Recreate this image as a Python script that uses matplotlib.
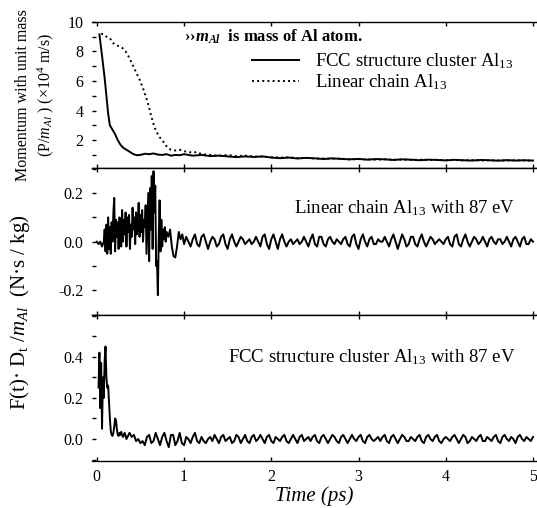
import numpy as np
import matplotlib
matplotlib.use("Agg")
import matplotlib.pyplot as plt
from matplotlib.lines import Line2D
from matplotlib.ticker import MultipleLocator

################################################################################

# top panel: momentum per unit mass (x 10^4 m/s)
FCC_MOM_T = [0.03, 0.05, 0.07, 0.09, 0.11, 0.13, 0.15, 0.18, 0.21, 0.24, 0.27,
             0.30, 0.34, 0.38, 0.42, 0.46, 0.50, 0.55, 0.60, 0.65, 0.70, 0.75,
             0.80, 0.85, 0.90, 0.95, 1.0, 1.1, 1.2, 1.3, 1.4, 1.5, 1.6, 1.7,
             1.8, 1.9, 2.0, 2.1, 2.2, 2.3, 2.4, 2.5, 2.6, 2.7, 2.8, 2.9, 3.0,
             3.1, 3.2, 3.3, 3.4, 3.5, 3.6, 3.7, 3.8, 3.9, 4.0, 4.1, 4.2, 4.3,
             4.4, 4.5, 4.6, 4.7, 4.8, 4.9, 5.0]
FCC_MOM_V = [9.15, 8.2, 7.2, 6.2, 5.0, 3.8, 3.0, 2.7, 2.4, 2.0, 1.7,
             1.5, 1.35, 1.2, 1.05, 0.98, 1.0, 1.08, 1.05, 1.1, 1.02, 1.0,
             1.05, 0.95, 1.0, 0.98, 1.05, 0.95, 1.0, 0.92, 0.95, 0.9, 0.85, 0.9,
             0.86, 0.9, 0.82, 0.78, 0.82, 0.76, 0.8, 0.77, 0.72, 0.77, 0.73, 0.7,
             0.73, 0.68, 0.72, 0.7, 0.66, 0.7, 0.68, 0.64, 0.68, 0.66, 0.63,
             0.67, 0.64, 0.62, 0.66, 0.64, 0.61, 0.65, 0.62, 0.64, 0.62]

LIN_MOM_T = [0.05, 0.08, 0.11, 0.15, 0.18, 0.21, 0.25, 0.29, 0.33, 0.37, 0.41,
             0.45, 0.49, 0.53, 0.57, 0.60, 0.62, 0.64, 0.66, 0.68, 0.70, 0.72,
             0.75, 0.78, 0.81, 0.85, 0.90, 0.95, 1.0, 1.05, 1.1, 1.15, 1.2,
             1.3, 1.4, 1.5, 1.6, 1.7, 1.8, 1.9, 2.0, 2.1, 2.2, 2.3, 2.4, 2.5,
             2.6, 2.7, 2.8, 2.9, 3.0, 3.1, 3.2, 3.3, 3.4, 3.5, 3.6, 3.7, 3.8,
             3.9, 4.0, 4.1, 4.2, 4.3, 4.4, 4.5, 4.6, 4.7, 4.8, 4.9, 5.0]
LIN_MOM_V = [9.2, 9.15, 9.0, 8.9, 8.6, 8.45, 8.35, 8.25, 8.0, 7.6, 7.1,
             6.6, 6.1, 5.5, 4.8, 4.2, 3.7, 3.3, 2.9, 2.6, 2.4, 2.2,
             2.0, 1.75, 1.5, 1.35, 1.3, 1.35, 1.25, 1.2, 1.15, 1.2, 1.05,
             1.0, 0.95, 1.0, 0.92, 0.95, 0.9, 0.88, 0.85, 0.82, 0.84, 0.78,
             0.8, 0.75, 0.76, 0.74, 0.75, 0.7, 0.72, 0.7, 0.68, 0.71, 0.67,
             0.69, 0.66, 0.68, 0.65, 0.67, 0.64, 0.66, 0.63, 0.65, 0.62, 0.64,
             0.63, 0.61, 0.64, 0.62, 0.61]

# middle panel: linear chain force (N.s/kg), early burst
LIN_F_T0 = [0.00, 0.02, 0.04, 0.06, 0.08, 0.09, 0.10, 0.11, 0.12, 0.13, 0.14,
            0.15, 0.16, 0.17, 0.18, 0.19, 0.20, 0.21, 0.22, 0.23, 0.24, 0.25,
            0.26, 0.27, 0.28, 0.29, 0.30, 0.31, 0.32, 0.33, 0.34, 0.35, 0.36,
            0.37, 0.38, 0.39, 0.40, 0.41, 0.42, 0.43, 0.44, 0.45, 0.46, 0.47,
            0.48, 0.49, 0.50, 0.51, 0.52, 0.53, 0.54, 0.55, 0.56, 0.57, 0.58,
            0.59, 0.60, 0.61, 0.62, 0.63, 0.64, 0.65, 0.66, 0.67, 0.68, 0.69,
            0.70, 0.71, 0.72, 0.73, 0.74, 0.75, 0.76, 0.77, 0.78, 0.79, 0.80,
            0.82, 0.84, 0.86, 0.88, 0.90, 0.92, 0.94, 0.96, 0.98, 1.00]
LIN_F_V0 = [0.0, -0.01, 0.0, -0.02, 0.0, 0.05, -0.04, 0.07, -0.05, 0.10, -0.03,
            0.06, -0.05, 0.08, 0.0, 0.12, 0.18, -0.04, 0.09, 0.02, 0.08, -0.03,
            0.10, 0.05, -0.02, 0.13, 0.0, 0.09, 0.03, 0.12, -0.02, 0.10, 0.04,
            0.11, -0.03, 0.07, 0.02, 0.14, 0.05, 0.10, -0.01, 0.12, 0.03, 0.08,
            0.16, 0.02, 0.11, 0.04, 0.13, 0.0, 0.09, 0.06, 0.15, -0.05, 0.08,
            0.20, -0.08, 0.22, 0.05, 0.27, -0.03, 0.29, 0.12, 0.23, -0.10, -0.08,
            -0.22, 0.02, 0.17, -0.04, 0.09, -0.02, 0.05, 0.01, 0.06, 0.0, 0.04,
            0.02, 0.05, -0.02, -0.06, -0.065, -0.02, 0.04, 0.01, 0.03, -0.01]
# middle panel: later oscillation, 1.025 .. 5.0 ps
LIN_F_V1 = [0.02, 0.00, -0.02, 0.01, 0.03, -0.01, -0.02, 0.02,
            0.03, 0.00, -0.03, 0.00, 0.02, 0.01, -0.02, -0.01,
            0.02, 0.03, -0.01, -0.03, 0.01, 0.03, 0.00, -0.02,
            0.00, 0.02, 0.01, -0.01, 0.00, 0.01, -0.01, 0.00,
            0.02, 0.00, -0.02, 0.02, 0.03, -0.01, -0.03, 0.01,
            0.03, 0.00, -0.03, 0.01, 0.03, 0.00, -0.02, 0.00,
            0.01, -0.01, 0.00, 0.01, -0.01, 0.00, 0.02, 0.00,
            -0.02, 0.01, 0.03, -0.01, -0.02, 0.02, 0.02, -0.01,
            -0.02, 0.01, 0.02, 0.00, -0.01, 0.01, 0.00, -0.01,
            0.01, 0.02, -0.01, -0.02, 0.02, 0.03, -0.01, -0.03,
            0.01, 0.03, 0.00, -0.02, 0.01, 0.02, -0.01, -0.01,
            0.01, 0.00, 0.00, 0.02, 0.00, -0.02, 0.01, 0.03,
            0.00, -0.03, 0.00, 0.03, 0.01, -0.02, -0.01, 0.02,
            0.02, -0.01, -0.02, 0.01, 0.03, 0.00, -0.02, 0.00,
            0.02, 0.01, -0.01, 0.00, 0.01, 0.00, -0.01, 0.01,
            0.02, -0.01, -0.02, 0.02, 0.03, -0.01, -0.02, 0.01,
            0.03, 0.00, -0.02, 0.00, 0.02, 0.01, -0.01, 0.00,
            0.02, 0.00, -0.02, 0.01, 0.02, 0.00, -0.01, 0.01,
            0.01, -0.01, 0.00, 0.02, 0.00, -0.02, 0.01, 0.02,
            0.00, -0.02, 0.01, 0.02, -0.01, -0.01, 0.01, 0.00]

# bottom panel: FCC cluster force, early burst
FCC_F_T0 = [0.02, 0.03, 0.04, 0.05, 0.06, 0.07, 0.08, 0.09, 0.10, 0.11, 0.12,
            0.13, 0.14, 0.15, 0.16, 0.17, 0.18, 0.19, 0.20, 0.21, 0.22, 0.23,
            0.24, 0.25, 0.26, 0.27, 0.28, 0.29, 0.30, 0.32, 0.34]
FCC_F_V0 = [0.25, 0.42, 0.15, 0.37, 0.05, 0.30, 0.20, 0.38, 0.45, 0.30, 0.25,
            0.26, 0.18, 0.10, 0.04, 0.02, 0.015, 0.03, 0.06, 0.10, 0.09, 0.05,
            0.02, 0.015, 0.03, 0.02, 0.035, 0.02, 0.01, 0.03, 0.0]
# bottom panel: later oscillation, 0.375 .. 5.0 ps
FCC_F_V1 = [0.03, 0.01, 0.02, -0.01, 0.00, -0.02, -0.01, -0.03, 0.01, 0.02,
            -0.02, -0.01, 0.03, 0.00, -0.03, 0.01, 0.03, -0.01, -0.04, 0.02,
            0.02, -0.03, -0.01, 0.03, -0.02, -0.03, 0.01, 0.00, -0.02, 0.01,
            0.03, -0.01, -0.02, 0.01, -0.01, -0.02, 0.00, 0.01, -0.01, 0.02,
            0.00, -0.02, 0.01, 0.02, -0.01, 0.00, 0.01, -0.02, -0.01, 0.02,
            0.01, -0.02, 0.00, 0.02, -0.01, -0.02, 0.01, 0.02, -0.01, 0.00,
            0.02, 0.00, -0.02, 0.01, 0.02, -0.01, -0.02, 0.01, 0.00, -0.01,
            0.01, 0.02, -0.01, -0.02, 0.00, 0.02, 0.00, -0.02, 0.01, 0.02,
            -0.01, 0.00, 0.01, -0.01, 0.01, 0.02, -0.01, -0.02, 0.01, 0.02,
            0.00, -0.02, 0.00, 0.02, 0.01, -0.01, -0.02, 0.01, 0.02, 0.00,
            -0.02, 0.00, 0.02, 0.00, -0.01, 0.01, 0.02, -0.01, -0.02, 0.01,
            0.02, 0.00, -0.01, 0.00, 0.01, -0.01, 0.01, 0.02, -0.01, -0.02,
            0.01, 0.02, 0.00, -0.02, 0.00, 0.02, 0.01, -0.01, -0.01, 0.01,
            0.00, -0.01, 0.01, 0.02, -0.01, -0.02, 0.01, 0.02, 0.00, -0.01,
            0.01, 0.02, -0.01, -0.02, 0.00, 0.01, 0.00, -0.01, 0.01, 0.02,
            0.00, -0.02, 0.00, 0.02, 0.01, -0.02, -0.01, 0.01, 0.00, -0.01,
            0.01, 0.02, -0.01, -0.01, 0.01, 0.00, -0.01, 0.01, 0.02, -0.01,
            -0.02, 0.01, 0.02, 0.00, -0.01, 0.01, 0.00, -0.02, 0.01, 0.02,
            0.00, -0.01, 0.01, 0.00, -0.01, 0.01]

X_TICKS = [0, 1, 2, 3, 4, 5]

################################################################################

plt.rcParams["font.family"] = ["Liberation Serif", "DejaVu Serif"]
plt.rcParams["mathtext.fontset"] = "custom"
plt.rcParams["mathtext.rm"] = "Liberation Serif"
plt.rcParams["mathtext.it"] = "Liberation Serif:italic"
plt.rcParams["mathtext.bf"] = "Liberation Serif:bold:italic"
plt.rcParams["axes.unicode_minus"] = False

LW = 1.4


def style_ax(ax, ylim, yticks, minor):
    ax.set_xlim(-0.057, 5.046)
    ax.set_ylim(*ylim)
    ax.spines["left"].set_visible(False)
    ax.spines["right"].set_visible(False)
    ax.spines["top"].set_linewidth(1.0)
    ax.spines["bottom"].set_linewidth(1.0)
    ax.set_yticks(yticks)
    ax.yaxis.set_minor_locator(MultipleLocator(minor))
    ax.set_xticks(X_TICKS)
    ax.tick_params(axis="y", which="both", direction="in", length=3,
                   width=1, labelsize=11.5, pad=6)
    ax.tick_params(axis="x", which="both", direction="in", length=3,
                   width=1, labelsize=11.5, top=True, pad=6)


def main():
    fig, (ax1, ax2, ax3) = plt.subplots(3, 1, sharex=True,
                                        figsize=(5.37, 5.08), dpi=100)
    fig.subplots_adjust(left=0.171, right=1.0, top=0.957, bottom=0.0925,
                        hspace=0)
    ##
    ax1.plot(FCC_MOM_T, FCC_MOM_V, color="black", lw=LW)
    ax1.plot(LIN_MOM_T, LIN_MOM_V, color="black", lw=LW, ls=":")
    style_ax(ax1, (0.1, 10.0), [2, 4, 6, 8, 10], 1)
    ax1.set_ylabel("Momentum with unit mass\n(P/$m_{Al}$ ) (×10$^{4}$ m/s)",
                   fontsize=11.5, labelpad=8, linespacing=1.3)
    ax1.text(0.208, 0.895, r"››$\mathbf{m}_{\mathbf{Al}}$  is mass of Al atom.",
             transform=ax1.transAxes, fontsize=12, fontweight="bold",
             va="center", ha="left")
    handles = [Line2D([], [], color="black", lw=LW),
               Line2D([], [], color="black", lw=LW, ls=":")]
    ax1.legend(handles, ["FCC structure cluster Al$_{13}$",
                         "Linear chain Al$_{13}$"],
               loc="upper left", bbox_to_anchor=(0.36, 0.80), frameon=False,
               fontsize=13.5, handlelength=2.5, handletextpad=0.85,
               labelspacing=0.1, borderpad=0, borderaxespad=0)
    ##
    lin_t1 = np.linspace(1.025, 5.0, len(LIN_F_V1))
    ax2.plot(list(LIN_F_T0) + list(lin_t1), LIN_F_V0 + LIN_F_V1,
             color="black", lw=LW)
    style_ax(ax2, (-0.3, 0.302), [-0.2, 0.0, 0.2], 0.1)
    ax2.yaxis.set_major_formatter(lambda v, p: f"{v:.1f}")
    ax2.text(0.951, 0.728, "Linear chain Al$_{13}$ with 87 eV",
             transform=ax2.transAxes, fontsize=13.5, ha="right", va="center")
    ##
    fcc_t1 = np.linspace(0.375, 5.0, len(FCC_F_V1))
    ax3.plot(list(FCC_F_T0) + list(fcc_t1), FCC_F_V0 + FCC_F_V1,
             color="black", lw=LW)
    style_ax(ax3, (-0.107, 0.605), [0.0, 0.2, 0.4], 0.1)
    ax3.yaxis.set_major_formatter(lambda v, p: f"{v:.1f}")
    ax3.text(0.951, 0.712, "FCC structure cluster Al$_{13}$ with 87 eV",
             transform=ax3.transAxes, fontsize=13.5, ha="right", va="center")
    ax3.set_xlabel("Time (ps)", fontsize=15, fontstyle="italic", labelpad=1)
    ##
    fig.text(20 / 537, 1 - 312 / 508,
             "F(t)· D$_{\\mathrm{t}}$ /$m_{Al}$  (N·s / kg)",
             rotation=90, fontsize=15, ha="center", va="center")
    fig.savefig("out.png", dpi=100)


################################################################################

main()
